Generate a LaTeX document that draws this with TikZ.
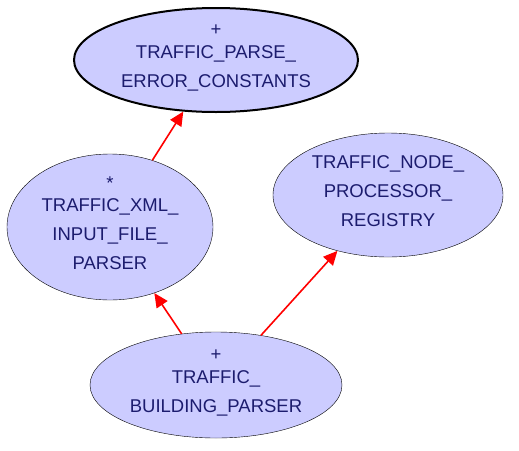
\documentclass[tikz,border=0pt]{standalone}
\usepackage{fontspec}
\setmainfont{Liberation Sans}
\usetikzlibrary{shapes.geometric,arrows.meta}

\definecolor{classFill}{RGB}{204,204,255}
\definecolor{classText}{RGB}{28,28,110}

% extra depth under the last line lifts the text a little
\newcommand{\lift}{\rule[-8pt]{0pt}{0pt}}

\tikzset{
  class/.style={ellipse, draw=black, fill=classFill, text=classText,
    inner sep=0, align=center, font=\fontsize{18.5}{29}\selectfont},
  mainclass/.style={class, line width=2pt},
  uses/.style={draw=red, line width=1.6pt,
    -{Triangle[length=14pt,width=13pt]}}
}

\begin{document}
\begin{tikzpicture}[x=1pt, y=-1pt]
    \useasboundingbox (0,0) rectangle (519,450);
    \node[mainclass, minimum width=284, minimum height=104] (parseErr) at (216,60)
      {+\\[-6pt]TRAFFIC\_PARSE\_\\ERROR\_CONSTANTS\lift};
    \node[class, minimum width=206, minimum height=146] (xmlParser) at (110,227)
      {*\\[-7pt]TRAFFIC\_XML\_\\INPUT\_FILE\_\\PARSER\lift};
    \node[class, minimum width=230, minimum height=124] (nodeReg) at (388,195)
      {TRAFFIC\_NODE\_\\PROCESSOR\_\\REGISTRY\lift};
    \node[class, minimum width=252, minimum height=106] (buildParser) at (216,385)
      {+\\[-6pt]TRAFFIC\_\\BUILDING\_PARSER\lift};

    \draw[uses] (xmlParser) -- (parseErr);
    \draw[uses] (buildParser) -- (xmlParser);
    \draw[uses] (buildParser) -- (nodeReg);
  \end{tikzpicture}
\end{document}
